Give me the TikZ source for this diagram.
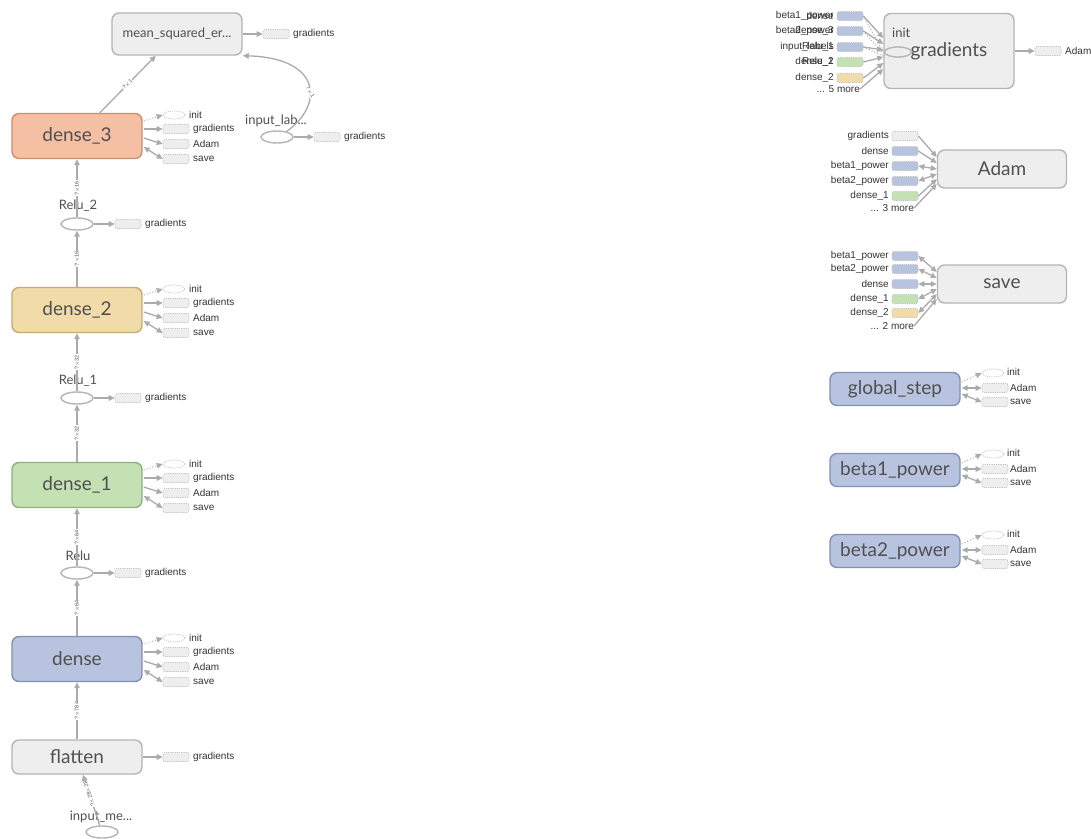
\documentclass[tikz,border=0pt]{standalone}
\usepackage{fontspec}
\setmainfont{Lato}
\newfontfamily\labelfam{Liberation Sans}
\usetikzlibrary{arrows.meta,calc,shapes.geometric}

\definecolor{opfill}{HTML}{EEEEEE}
\definecolor{opdraw}{HTML}{B5B5B5}
\definecolor{salfill}{HTML}{F4BFA2}
\definecolor{saldraw}{HTML}{C98F71}
\definecolor{whtfill}{HTML}{F1DBA8}
\definecolor{whtdraw}{HTML}{C5AC74}
\definecolor{grnfill}{HTML}{C4E1B4}
\definecolor{grndraw}{HTML}{8EB07B}
\definecolor{blufill}{HTML}{B7C3DF}
\definecolor{bludraw}{HTML}{8191B5}
\definecolor{edgegray}{HTML}{ABABAB}
\definecolor{ghostdraw}{HTML}{C4C4C4}
\definecolor{bigtext}{HTML}{505050}
\definecolor{labtext}{HTML}{333333}

\newcommand\fbig{\fontsize{19}{19}\selectfont}
\newcommand\fmid{\fontsize{13}{13}\selectfont}
\newcommand\fsmall{\labelfam\fontsize{10}{10}\selectfont}
\newcommand\ftiny{\labelfam\fontsize{5.5}{5.5}\selectfont}

\tikzset{
  bigbox/.style={rounded corners=7pt, line width=1.4pt, inner sep=0pt,
    font=\fbig, text=bigtext},
  opbox/.style={bigbox, draw=opdraw, fill=opfill},
  salbox/.style={bigbox, draw=saldraw, fill=salfill},
  whtbox/.style={bigbox, draw=whtdraw, fill=whtfill},
  grnbox/.style={bigbox, draw=grndraw, fill=grnfill},
  blubox/.style={bigbox, draw=bludraw, fill=blufill},
  sz/.style 2 args={minimum width=#1pt, minimum height=#2pt},
  ghost/.style={rectangle, rounded corners=2pt, draw=ghostdraw,
    dash pattern=on 1.2pt off 1pt, line width=0.7pt, fill=opfill,
    minimum width=26pt, minimum height=9pt, inner sep=0pt},
  ghostel/.style={ellipse, draw=ghostdraw, dash pattern=on 1.2pt off 1pt,
    line width=0.7pt, fill=white, minimum width=22pt, minimum height=8pt,
    inner sep=0pt},
  opel/.style={ellipse, draw=opdraw, line width=1.4pt, fill=white,
    minimum width=32pt, minimum height=12pt, inner sep=0pt},
  lab/.style={font=\fsmall, text=labtext, anchor=west, inner sep=0pt},
  midlab/.style={font=\fmid, text=bigtext, inner sep=0pt},
  elab/.style={font=\ftiny, text=bigtext, inner sep=0.5pt, fill=white},
  tip/.tip={Triangle[length=6pt, width=5.5pt]},
  conn/.style={draw=edgegray, line width=1.3pt, -tip},
  biconn/.style={draw=edgegray, line width=1.3pt, tip-tip},
  ctrl/.style={draw=edgegray, line width=1pt, dotted},
  ctrlarrow/.style={ctrl, -tip},
}

% outputs of a layer variable: init, gradients, Adam, save
\newcommand\denseside[2]{%
  \node[ghostel] (#1-init) at (174,#2-21) {};
  \node[lab] (#1-initl) at (189,#2-21) {init};
  \node[ghost] (#1-grad) at (176,#2-7) {};
  \node[lab] (#1-gradl) at (193,#2-7) {gradients};
  \node[ghost] (#1-adam) at (176,#2+8) {};
  \node[lab] (#1-adaml) at (193,#2+8) {Adam};
  \node[ghost] (#1-save) at (176,#2+23) {};
  \node[lab] (#1-savel) at (193,#2+23) {save};
  \draw[ctrlarrow] ($(#1.east)+(1,-15)$) -- (#1-init.west);
  \draw[conn] ($(#1.east)+(1,-7)$) -- (#1-grad.west);
  \draw[conn] ($(#1.east)+(1,2)$) -- (#1-adam.west);
  \draw[biconn] ($(#1.east)+(1,11)$) -- (#1-save.west);
}

% outputs of an optimizer variable: init, Adam, save
\newcommand\varside[2]{%
  \node[ghostel] (#1-init) at (993,#2-16) {};
  \node[lab] (#1-initl) at (1007,#2-17) {init};
  \node[ghost] (#1-adam) at (995,#2-1) {};
  \node[lab] (#1-adaml) at (1010,#2-1) {Adam};
  \node[ghost] (#1-save) at (995,#2+13) {};
  \node[lab] (#1-savel) at (1010,#2+13) {save};
  \draw[ctrlarrow] ($(#1.east)+(1,-7)$) -- (#1-init.west);
  \draw[biconn] ($(#1.east)+(1,-1)$) -- (#1-adam.west);
  \draw[biconn] ($(#1.east)+(1,5)$) -- (#1-save.west);
}

\begin{document}
\begin{tikzpicture}[x=1pt, y=-1pt]
\fill[white] (0,0) rectangle (1091,838);
\useasboundingbox (0,0) rectangle (1091,838);

% ---------------- main network column ----------------
\node[opbox, sz={130}{42}, font=\fmid] (mse) at (177,34) {mean\_squared\_er...};
\node[ghost] (mse-grad) at (276,34) {};
\node[lab] (mse-gradl) at (293,34) {gradients};
\draw[conn] (mse.east) -- (mse-grad.west);

\node[salbox, sz={130}{45}] (dense3) at (77,136) {dense\_3};
\node[whtbox, sz={130}{45}] (dense2) at (77,310) {dense\_2};
\node[grnbox, sz={130}{45}] (dense1) at (77,485) {dense\_1};
\node[blubox, sz={130}{45}] (dense) at (77,659) {dense};
\node[opbox, sz={130}{34}] (flatten) at (77,757) {flatten};

\node[opel] (relu2) at (77,224) {};
\node[midlab] (relu2l) at (78,206) {Relu\_2};
\node[opel] (relu1) at (77,398) {};
\node[midlab] (relu1l) at (78,381) {Relu\_1};
\node[opel] (relu) at (77,573) {};
\node[midlab] (relul) at (78,556) {Relu};

\node[opel] (inlab) at (277,137) {};
\node[midlab] (inlabl) at (276,121) {input\_lab...};
\node[opel] (inme) at (102,832) {};
\node[midlab] (inmel) at (101,817) {input\_me...};

% gradient sinks of the activations and inputs
\foreach \n/\y in {relu2/224, relu1/398, relu/573} {
  \node[ghost] (\n-grad) at (128,\y) {};
  \node[lab] (\n-gradl) at (145,\y) {gradients};
  \draw[conn] (\n.east) -- (\n-grad.west);
}
\node[ghost] (inlab-grad) at (327,137) {};
\node[lab] (inlab-gradl) at (344,137) {gradients};
\draw[conn] (inlab.east) -- (inlab-grad.west);
\node[ghost] (flatten-grad) at (176,757) {};
\node[lab] (flatten-gradl) at (193,757) {gradients};
\draw[conn] (flatten.east) -- (flatten-grad.west);

% data flow
\draw[conn] (dense3) -- node[elab, rotate=46] {?$\times$1} (mse);
\draw[conn] (inlab.30) .. controls (324,105) and (322,58) .. (mse.south east)
  node[elab, pos=0.42, rotate=-60] {?$\times$1};
\draw[conn] (relu2) -- node[elab, rotate=90] {?$\times$16} (dense3);
\draw[conn] (dense2) -- node[elab, rotate=90] {?$\times$16} (relu2);
\draw[conn] (relu1) -- node[elab, rotate=90] {?$\times$32} (dense2);
\draw[conn] (dense1) -- node[elab, rotate=90] {?$\times$32} (relu1);
\draw[conn] (relu) -- node[elab, rotate=90] {?$\times$64} (dense1);
\draw[conn] (dense) -- node[elab, rotate=90] {?$\times$64} (relu);
\draw[conn] (flatten) -- node[elab, rotate=90] {?$\times$784} (dense);
\draw[conn] (inme) -- node[elab, rotate=108, pos=0.62] {?$\times$28$\times$28} (flatten);

\denseside{dense3}{136}
\denseside{dense2}{310}
\denseside{dense1}{485}
\denseside{dense}{659}

% ---------------- auxiliary nodes ----------------
\node[opbox, sz={130}{75}] (grads) at (949,51) {gradients};
\node[ellipse, draw=opdraw, line width=1.4pt, fill=none, minimum width=27pt,
  minimum height=10pt, inner sep=0pt] (grads-init) at (898,52) {};
\node[midlab, anchor=west] (grads-initl) at (892,33) {init};
\node[ghost] (grads-adam) at (1048,51) {};
\node[lab] (grads-adaml) at (1065,51) {Adam};
\draw[conn] (grads.east) -- (grads-adam.west);

% inputs of gradients (labels drawn on top of each other)
\node[ghost, fill=blufill] (gi1) at (850,16) {};
\node[ghost, fill=blufill] (gi2) at (850,31) {};
\node[ghost, fill=blufill] (gi3) at (850,47) {};
\node[ghost, fill=grnfill] (gi4) at (850,62) {};
\node[ghost, fill=whtfill] (gi5) at (850,78) {};
\node[lab, anchor=east] (gi1a) at (834,16) {beta1\_power};
\node[lab, anchor=east] (gi1b) at (834,16) {dense};
\node[lab, anchor=east] (gi2a) at (834,31) {beta2\_power};
\node[lab, anchor=east] (gi2b) at (834,31) {dense\_3};
\node[lab, anchor=east] (gi3a) at (834,47) {input\_labels};
\node[lab, anchor=east] (gi3b) at (834,47) {Relu\_1};
\node[lab, anchor=east] (gi4a) at (834,62) {dense\_1};
\node[lab, anchor=east] (gi4b) at (834,62) {Relu\_2};
\node[lab, anchor=east] (gi5a) at (834,78) {dense\_2};
\node[lab, anchor=east] (gimore) at (860,89) {... 5 more};
\draw[ctrl] (gi1.east) -- ($(grads.west)+(0,1)$);
\draw[ctrl] (gi2.east) -- ($(grads.west)+(0,3)$);
\draw[ctrl] (gi3.east) -- ($(grads.west)+(0,5)$);
\draw[conn] (gi1.east) -- ($(grads.west)+(0,-13)$);
\draw[conn] (gi2.east) -- ($(grads.west)+(0,-7)$);
\draw[conn] (gi3.east) -- ($(grads.west)+(0,-1)$);
\draw[conn] (gi4.east) -- ($(grads.west)+(0,6)$);
\draw[conn] (gi5.east) -- ($(grads.west)+(0,12)$);
\draw[conn] (gimore.east) -- ($(grads.west)+(0,18)$);

% Adam
\node[opbox, sz={129}{38}] (adam) at (1002,169) {Adam};
\node[ghost] (ai1) at (905,136) {};
\node[ghost, fill=blufill] (ai2) at (905,151) {};
\node[ghost, fill=blufill] (ai3) at (905,166) {};
\node[ghost, fill=blufill] (ai4) at (905,181) {};
\node[ghost, fill=grnfill] (ai5) at (905,196) {};
\node[lab, anchor=east] (ai1l) at (889,136) {gradients};
\node[lab, anchor=east] (ai2l) at (889,151) {dense};
\node[lab, anchor=east] (ai3l) at (889,166) {beta1\_power};
\node[lab, anchor=east] (ai4l) at (889,181) {beta2\_power};
\node[lab, anchor=east] (ai5l) at (889,196) {dense\_1};
\node[lab, anchor=east] (aimore) at (914,208) {... 3 more};
\draw[conn] (ai1.east) -- ($(adam.west)+(0,-12)$);
\draw[conn] (ai2.east) -- ($(adam.west)+(0,-6)$);
\draw[biconn] (ai3.east) -- ($(adam.west)+(0,0)$);
\draw[biconn] (ai4.east) -- ($(adam.west)+(0,5)$);
\draw[conn] (ai5.east) -- ($(adam.west)+(0,10)$);
\draw[conn] (aimore.east) -- ($(adam.west)+(0,15)$);

% save
\node[opbox, sz={129}{38}] (save) at (1002,284) {save};
\node[ghost, fill=blufill] (si1) at (905,256) {};
\node[ghost, fill=blufill] (si2) at (905,269) {};
\node[ghost, fill=blufill] (si3) at (905,284) {};
\node[ghost, fill=grnfill] (si4) at (905,299) {};
\node[ghost, fill=whtfill] (si5) at (905,313) {};
\node[lab, anchor=east] (si1l) at (889,256) {beta1\_power};
\node[lab, anchor=east] (si2l) at (889,269) {beta2\_power};
\node[lab, anchor=east] (si3l) at (889,284) {dense};
\node[lab, anchor=east] (si4l) at (889,299) {dense\_1};
\node[lab, anchor=east] (si5l) at (889,313) {dense\_2};
\node[lab, anchor=east] (simore) at (914,326) {... 2 more};
\draw[biconn] (si1.east) -- ($(save.west)+(0,-12)$);
\draw[biconn] (si2.east) -- ($(save.west)+(0,-6)$);
\draw[biconn] (si3.east) -- ($(save.west)+(0,0)$);
\draw[biconn] (si4.east) -- ($(save.west)+(0,5)$);
\draw[biconn] (si5.east) -- ($(save.west)+(0,10)$);
\draw[conn] (simore.east) -- ($(save.west)+(0,15)$);

% optimizer variables
\node[blubox, sz={130}{33}] (gstep) at (895,389) {global\_step};
\node[blubox, sz={130}{33}] (b1pow) at (895,470) {beta1\_power};
\node[blubox, sz={130}{33}] (b2pow) at (895,551) {beta2\_power};
\varside{gstep}{389}
\varside{b1pow}{470}
\varside{b2pow}{551}
\end{tikzpicture}
\end{document}
